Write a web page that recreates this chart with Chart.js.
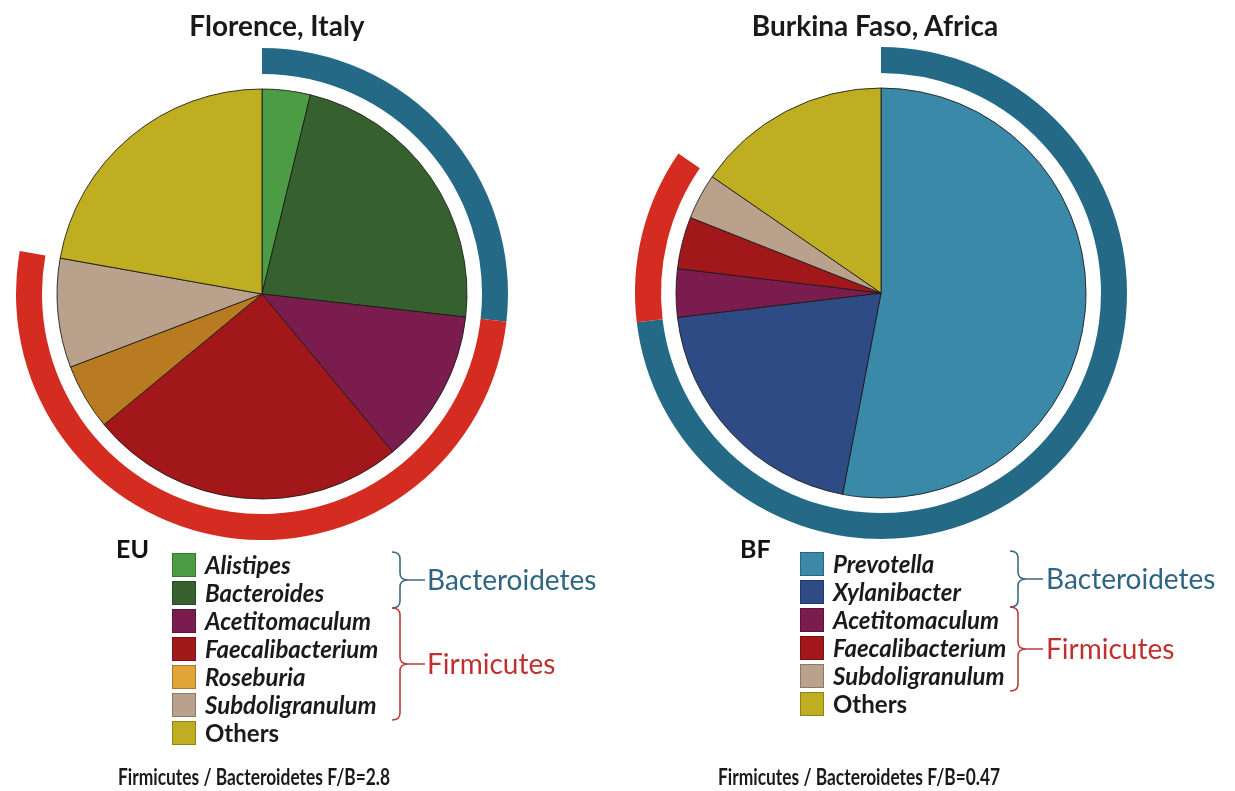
<!DOCTYPE html>
<html>
<head>
<meta charset="utf-8">
<script src="https://cdn.jsdelivr.net/npm/chart.js@4.4.0/dist/chart.umd.min.js"></script>
<style>
  body { margin: 0; background: #fff; font-family: Lato, "Open Sans", sans-serif; }
  #page { position: relative; width: 1235px; height: 791px; overflow: hidden; }
  .box { position: absolute; width: 500px; height: 500px; }
  .title { position: absolute; font-weight: bold; font-size: 28px; color: #1a1a1a; transform: translateX(-50%); white-space: nowrap; }
  .code { position: absolute; font-weight: bold; font-size: 25px; color: #111; }
  .sw { position: absolute; width: 24px; height: 24px; box-sizing: border-box; border: 1px solid rgba(0,0,0,0.25); }
  .item { position: absolute; font-weight: bold; font-style: italic; font-size: 24px; color: #1a1a1a; line-height: 24px; white-space: nowrap; }
  .item.plain { font-style: normal; }
  .phy { position: absolute; font-size: 28px; line-height: 30px; white-space: nowrap; }
  .foot { position: absolute; font-weight: bold; font-size: 22px; color: #1a1a1a; white-space: nowrap; transform: scaleX(0.79); transform-origin: 0 50%; }
  svg { position: absolute; left: 0; top: 0; }
</style>
</head>
<body>
<div id="page">
  <div class="box" style="left:12px;top:44px"><canvas id="euChart" width="500" height="500"></canvas></div>
  <div class="box" style="left:631px;top:43px"><canvas id="bfChart" width="500" height="500"></canvas></div>
  <svg id="braces" width="1235" height="791"></svg>
</div>
<script>
// values (% of reads)
var euGenera = ["Alistipes", "Bacteroides", "Acetitomaculum", "Faecalibacterium", "Roseburia", "Subdoligranulum", "Others"];
var euValues = [3.8, 23.0, 12.2, 25.0, 5.2, 8.6, 22.2];
var euPhylum = ["Bacteroidetes", "Bacteroidetes", "Firmicutes", "Firmicutes", "Firmicutes", "Firmicutes", ""];

var bfGenera = ["Prevotella", "Xylanibacter", "Acetitomaculum", "Faecalibacterium", "Subdoligranulum", "Others"];
var bfValues = [53.0, 20.1, 3.8, 4.1, 3.6, 15.4];
var bfPhylum = ["Bacteroidetes", "Bacteroidetes", "Firmicutes", "Firmicutes", "Firmicutes", ""];

var phyla = ["Bacteroidetes", "Firmicutes"];
var euTitle = "Florence, Italy";
var bfTitle = "Burkina Faso, Africa";
var euRatio = "Firmicutes / Bacteroidetes F/B=2.8";
var bfRatio = "Firmicutes / Bacteroidetes F/B=0.47";

// colours
var pieColor = {
  Alistipes: "#4b9c45", Bacteroides: "#36612f", Acetitomaculum: "#7a1d4e",
  Faecalibacterium: "#a2181a", Roseburia: "#b87b22", Subdoligranulum: "#b9a18b",
  Others: "#bfae22", Prevotella: "#3b89a9", Xylanibacter: "#2f4b85"
};
var swatchColor = Object.assign({}, pieColor, { Roseburia: "#e2a53a" });
var ringColor = { Bacteroidetes: "#246a86", Firmicutes: "#d42c20" };
var phyText = { Bacteroidetes: "#2f6583", Firmicutes: "#c0302e" };

function ringData(values, phylum) {
  var sums = phyla.map(function (p) {
    var s = 0;
    for (var i = 0; i < values.length; i++) if (phylum[i] === p) s += values[i];
    return s;
  });
  var rest = 0;
  for (var i = 0; i < values.length; i++) if (!phylum[i]) rest += values[i];
  return sums.concat([rest]);
}

function makePie(id, genera, values, phylum) {
  var ctx = document.getElementById(id).getContext("2d");
  return new Chart(ctx, {
    type: "pie",
    data: {
      labels: genera,
      datasets: [
        {
          // outer phylum ring
          data: ringData(values, phylum),
          backgroundColor: phyla.map(function (p) { return ringColor[p]; }).concat(["rgba(0,0,0,0)"]),
          borderWidth: 0,
          weight: 26,
        },
        {
          // white gap between ring and pie
          data: [1],
          backgroundColor: ["rgba(0,0,0,0)"],
          borderWidth: 0,
          weight: 15,
        },
        {
          data: values,
          backgroundColor: genera.map(function (g) { return pieColor[g]; }),
          borderColor: "rgba(25,25,25,0.85)",
          borderWidth: 1,
          weight: 205,
        },
      ],
    },
    options: {
      responsive: false,
      animation: false,
      events: [],
      radius: 246,
      layout: { padding: 0 },
      plugins: { legend: { display: false }, tooltip: { enabled: false } },
    },
  });
}

makePie("euChart", euGenera, euValues, euPhylum);
makePie("bfChart", bfGenera, bfValues, bfPhylum);

// titles, legends, braces
var page = document.getElementById("page");
function addDiv(cls, text, css) {
  var d = document.createElement("div");
  d.className = cls;
  d.textContent = text;
  for (var k in css) d.style[k] = css[k];
  page.appendChild(d);
  return d;
}

addDiv("title", euTitle, { left: "277px", top: "8px" });
addDiv("title", bfTitle, { left: "875px", top: "8px" });

var svg = document.getElementById("braces");
function brace(x, y0, y1, ym, color) {
  var a = 8, r = 7;
  var d = "M" + x + " " + y0 +
    " Q" + (x + a) + " " + y0 + " " + (x + a) + " " + (y0 + r) +
    " L" + (x + a) + " " + (ym - r) +
    " Q" + (x + a) + " " + ym + " " + (x + 2 * a) + " " + ym +
    " Q" + (x + a) + " " + ym + " " + (x + a) + " " + (ym + r) +
    " L" + (x + a) + " " + (y1 - r) +
    " Q" + (x + a) + " " + y1 + " " + x + " " + y1 +
    " M" + (x + 2 * a) + " " + ym + " L" + (x + 2 * a + 17) + " " + ym;
  var p = document.createElementNS("http://www.w3.org/2000/svg", "path");
  p.setAttribute("d", d);
  p.setAttribute("fill", "none");
  p.setAttribute("stroke", color);
  p.setAttribute("stroke-width", "1.6");
  svg.appendChild(p);
}

function legend(code, genera, phylum, codeX, swX, top, braceX, textX, foot, footX) {
  addDiv("code", code, { left: codeX + "px", top: "533px" });
  var pitch = 28;
  genera.forEach(function (g, i) {
    var y = top + i * pitch;
    addDiv("sw", "", { left: swX + "px", top: y + "px", background: swatchColor[g] });
    addDiv(g === "Others" ? "item plain" : "item", g, { left: (swX + 33) + "px", top: y + "px" });
  });
  phyla.forEach(function (p) {
    var first = phylum.indexOf(p), last = phylum.lastIndexOf(p);
    var y0 = top + first * pitch - 1, y1 = top + last * pitch + 27;
    var ym = (y0 + y1) / 2;
    brace(braceX, y0, y1, ym, p === "Bacteroidetes" ? "#3f6a80" : "#b8403d");
    addDiv("phy", p, { left: textX + "px", top: (ym - 16) + "px", color: phyText[p] });
  });
  addDiv("foot", foot, { left: footX + "px", top: "763px" });
}

legend("EU", euGenera, euPhylum, 116, 172, 553, 392, 427, euRatio, 118);
legend("BF", bfGenera, bfPhylum, 740, 800, 552, 1010, 1046, bfRatio, 718);
</script>
</body>
</html>
